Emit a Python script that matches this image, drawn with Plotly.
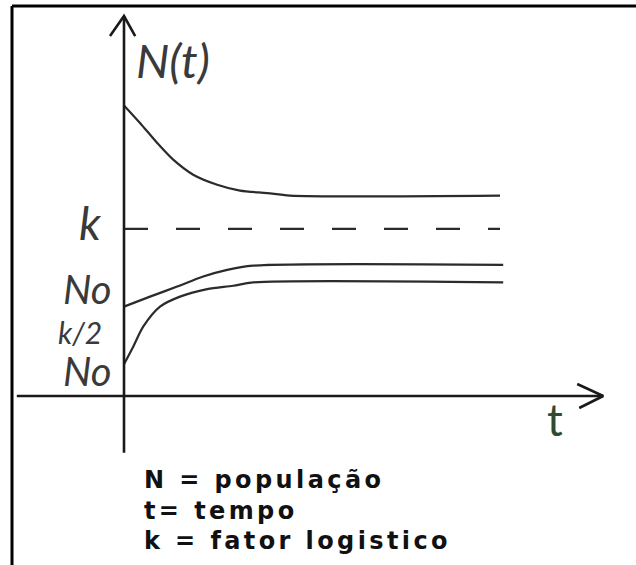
import plotly.graph_objects as go

# curves (t in arbitrary time units, N with k = 100)
upper_t = [0, 0.4, 0.83, 1.23, 1.73, 2.33, 2.9, 3.58, 4.15, 9.4]
upper_n = [174, 163.5, 151.5, 141.5, 132.5, 126.5, 123, 121.5, 120, 120]

mid_t = [0, 0.65, 1.33, 1.98, 2.58, 3.23, 9.48]
mid_n = [53.5, 59.5, 65.5, 71.5, 75.5, 78, 78.5]

low_t = [0, 0.23, 0.48, 0.9, 1.4, 2.08, 2.73, 3.23, 9.48]
low_n = [19, 29.5, 41.5, 53.5, 59.5, 64, 66, 68, 68]

k_value = 100
k_t = [0, 9.4]

# axis extents
t_axis = [-2.68, 11.98]
n_axis = [-34, 227.5]

y_labels = ["k", "No", "k/2", "No"]
y_label_pos = [103.6, 64, 38.5, 15]
y_label_size = [46, 40, 30, 40]
y_label_right = [-0.5, -0.25, -0.5, -0.25]

legend_lines = ["N = população", "t= tempo", "k = fator logistico"]

curve = dict(color="#2b2b2b", width=2.2)
ax = dict(color="#1a1a1a", width=2.6)

fig = go.Figure()
fig.add_trace(go.Scatter(x=upper_t, y=upper_n, mode="lines", line=dict(**curve, shape="spline", smoothing=0.8)))
fig.add_trace(go.Scatter(x=mid_t, y=mid_n, mode="lines", line=dict(**curve, shape="spline", smoothing=0.8)))
fig.add_trace(go.Scatter(x=low_t, y=low_n, mode="lines", line=dict(**curve, shape="spline", smoothing=0.8)))
fig.add_trace(go.Scatter(x=k_t, y=[k_value, k_value], mode="lines",
                         line=dict(color="#2b2b2b", width=2.2, dash="24px,28px")))

# axes with open arrow heads
fig.add_trace(go.Scatter(x=[0, 0], y=n_axis, mode="lines", line=ax))
fig.add_trace(go.Scatter(x=t_axis, y=[0, 0], mode="lines", line=ax))
top = n_axis[1]
fig.add_trace(go.Scatter(x=[-0.35, 0, 0.28], y=[top - 12, top, top - 12], mode="lines", line=ax))
end = t_axis[1]
fig.add_trace(go.Scatter(x=[end - 0.65, end, end - 0.6], y=[7.2, 0, -7.2], mode="lines", line=ax))

lab = "#3a3a3a"
fig.add_annotation(x=0.25, y=201, text="<i>N(t)</i>", showarrow=False, xanchor="left", yanchor="middle",
                   font=dict(family="Lato", size=47, color=lab))
for txt, yy, sz, xx in zip(y_labels, y_label_pos, y_label_size, y_label_right):
    fig.add_annotation(x=xx, y=yy, text="<i>" + txt + "</i>", showarrow=False, xanchor="right",
                       yanchor="middle", font=dict(family="Lato", size=sz, color=lab))
fig.add_annotation(x=10.78, y=-13.5, text="t", showarrow=False, xanchor="center", yanchor="middle",
                   font=dict(family="Lato", size=44, color="#2f4a2f"))

for i, line in enumerate(legend_lines):
    fig.add_annotation(xref="paper", yref="paper", x=142 / 636, y=1 - (480 + 30.5 * i) / 565,
                       text="<span style='letter-spacing:3.4px'><b>" + line + "</b></span>",
                       showarrow=False, xanchor="left", yanchor="middle",
                       font=dict(family="DejaVu Sans", size=24, color="#111111"))

# frame (top and left edges visible in the crop)
fig.add_shape(type="line", xref="paper", yref="paper", x0=12 / 636, x1=1, y0=1 - 6 / 565, y1=1 - 6 / 565,
              line=dict(color="black", width=3))
fig.add_shape(type="line", xref="paper", yref="paper", x0=12 / 636, x1=12 / 636, y0=0, y1=1 - 6 / 565,
              line=dict(color="black", width=3))

fig.update_layout(
    width=636, height=565, margin=dict(l=0, r=0, t=0, b=0),
    paper_bgcolor="white", plot_bgcolor="white", showlegend=False,
    xaxis=dict(range=[-3.1, 12.8], visible=False, fixedrange=True),
    yaxis=dict(range=[-101.2, 237.1], visible=False, fixedrange=True),
)

fig.write_html("out.html", config={"displayModeBar": False},
               post_script="document.body.style.margin='0';")
